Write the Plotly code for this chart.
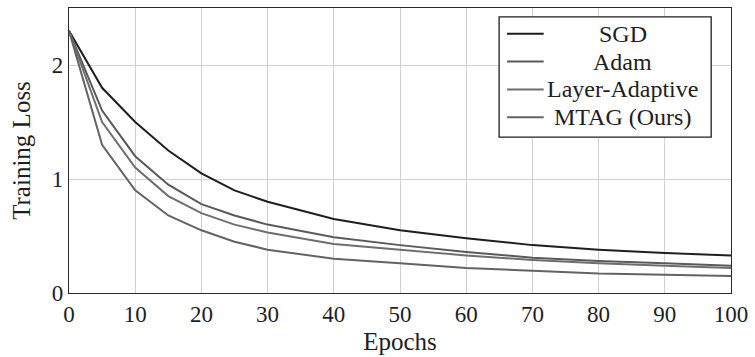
import plotly.graph_objects as go

epochs = [0, 5, 10, 15, 20, 25, 30, 40, 50, 60, 70, 80, 90, 100]
sgd = [2.3, 1.8, 1.5, 1.25, 1.05, 0.9, 0.8, 0.65, 0.55, 0.48, 0.42, 0.38, 0.35, 0.33]
adam = [2.3, 1.6, 1.2, 0.95, 0.78, 0.68, 0.6, 0.49, 0.42, 0.36, 0.31, 0.28, 0.26, 0.24]
layer_adaptive = [2.3, 1.5, 1.1, 0.85, 0.7, 0.6, 0.53, 0.43, 0.38, 0.33, 0.29, 0.26, 0.24, 0.22]
mtag = [2.3, 1.3, 0.9, 0.68, 0.55, 0.45, 0.38, 0.3, 0.26, 0.22, 0.195, 0.17, 0.16, 0.15]

names = ["SGD", "Adam", "Layer-Adaptive", "MTAG (Ours)"]
series = [sgd, adam, layer_adaptive, mtag]
colors = ["#1e1e1e", "#5a5a5a", "#6e6e6e", "#636363"]

FONT = "Liberation Serif"
TXT = "#1e1e1e"
fig = go.Figure()
for n, s, c in zip(names, series, colors):
    fig.add_trace(go.Scatter(x=epochs, y=s, mode="lines", name=n,
                             line=dict(color=c, width=2), showlegend=False))

W, H = 755, 357
L, R, T, B = 69, 18, 7, 63
pw, ph = W - L - R, H - T - B

def px(x):
    return (x - L) / pw

def py(y):
    return (H - B - y) / ph

# custom legend (centered text like pgfplots)
fig.add_shape(type="rect", xref="paper", yref="paper",
              x0=px(503), x1=px(717), y0=py(137), y1=py(16),
              line=dict(color="#1e1e1e", width=1.3), fillcolor="white", layer="above")
rows = [33, 61, 89, 117]
for n, c, r in zip(names, colors, rows):
    fig.add_shape(type="line", xref="paper", yref="paper",
                  x0=px(511), x1=px(548), y0=py(r), y1=py(r),
                  line=dict(color=c, width=2), layer="above")
    fig.add_annotation(x=px(628), y=py(r), xref="paper", yref="paper",
                       text=n, showarrow=False, xanchor="center", yanchor="middle",
                       font=dict(family=FONT, size=24, color=TXT))

axis_common = dict(showline=True, linecolor="#2a2a2a", linewidth=1.3, mirror=True,
                   showgrid=True, gridcolor="#d2d2d2", gridwidth=1, zeroline=False,
                   ticks="", tickfont=dict(family=FONT, size=23, color=TXT))
fig.update_xaxes(range=[0, 100], tickvals=list(range(0, 101, 10)),
                 title=dict(text="Epochs", font=dict(family=FONT, size=25, color=TXT), standoff=6),
                 **axis_common)
fig.update_yaxes(range=[0, 2.5], tickvals=[0, 1, 2],
                 title=dict(text="Training Loss", font=dict(family=FONT, size=25, color=TXT), standoff=14),
                 **axis_common)
fig.update_layout(width=W, height=H, margin=dict(l=L, r=R, t=T, b=B),
                  plot_bgcolor="white", paper_bgcolor="white")
fig.write_html("out.html")
